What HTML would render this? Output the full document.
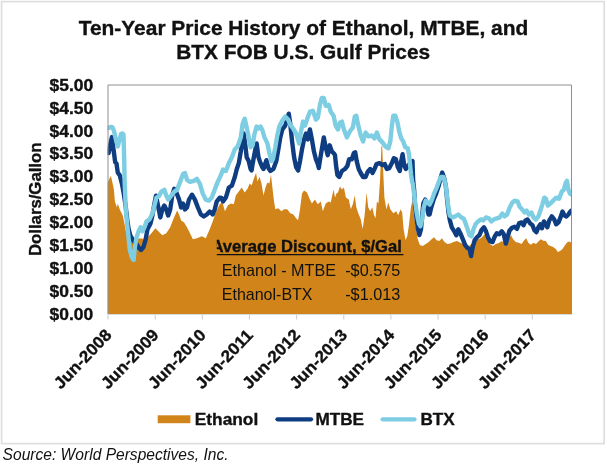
<!DOCTYPE html>
<html><head><meta charset="utf-8"><title>Ten-Year Price History of Ethanol, MTBE, and BTX</title>
<style>
html,body{margin:0;padding:0;background:#fff;}
body{width:607px;height:465px;overflow:hidden;font-family:"Liberation Sans",sans-serif;}
svg{display:block;}
text{font-family:"Liberation Sans",sans-serif;fill:#111;}
.b{font-weight:bold;stroke:#111;stroke-width:0.35px;}
</style></head><body>
<svg width="607" height="465" viewBox="0 0 607 465">
<rect x="0" y="0" width="607" height="465" fill="#fff"/>
<rect x="1.6" y="1.6" width="602.6" height="442" fill="#fff" stroke="#dedede" stroke-width="1.7"/>

<text class="b" x="303.5" y="34.5" font-size="19.9" text-anchor="middle" textLength="449.6" lengthAdjust="spacingAndGlyphs">Ten-Year Price History of Ethanol, MTBE, and</text>
<text class="b" x="303.2" y="58.9" font-size="19.9" text-anchor="middle" textLength="254" lengthAdjust="spacingAndGlyphs">BTX FOB U.S. Gulf Prices</text>
<text class="b" x="93.2" y="90.7" font-size="16" text-anchor="end" textLength="43.6" lengthAdjust="spacingAndGlyphs">$5.00</text>
<text class="b" x="93.2" y="113.6" font-size="16" text-anchor="end" textLength="43.6" lengthAdjust="spacingAndGlyphs">$4.50</text>
<text class="b" x="93.2" y="136.5" font-size="16" text-anchor="end" textLength="43.6" lengthAdjust="spacingAndGlyphs">$4.00</text>
<text class="b" x="93.2" y="159.4" font-size="16" text-anchor="end" textLength="43.6" lengthAdjust="spacingAndGlyphs">$3.50</text>
<text class="b" x="93.2" y="182.3" font-size="16" text-anchor="end" textLength="43.6" lengthAdjust="spacingAndGlyphs">$3.00</text>
<text class="b" x="93.2" y="205.2" font-size="16" text-anchor="end" textLength="43.6" lengthAdjust="spacingAndGlyphs">$2.50</text>
<text class="b" x="93.2" y="228.1" font-size="16" text-anchor="end" textLength="43.6" lengthAdjust="spacingAndGlyphs">$2.00</text>
<text class="b" x="93.2" y="251.0" font-size="16" text-anchor="end" textLength="43.6" lengthAdjust="spacingAndGlyphs">$1.50</text>
<text class="b" x="93.2" y="273.9" font-size="16" text-anchor="end" textLength="43.6" lengthAdjust="spacingAndGlyphs">$1.00</text>
<text class="b" x="93.2" y="296.8" font-size="16" text-anchor="end" textLength="43.6" lengthAdjust="spacingAndGlyphs">$0.50</text>
<text class="b" x="93.2" y="319.7" font-size="16" text-anchor="end" textLength="43.6" lengthAdjust="spacingAndGlyphs">$0.00</text>
<text class="b" transform="translate(41,199.3) rotate(-90)" x="0" y="0" font-size="16" text-anchor="middle" textLength="113.5" lengthAdjust="spacingAndGlyphs">Dollars/Gallon</text>
<clipPath id="pc"><rect x="107.5" y="85" width="464.0" height="229"/></clipPath>
<g clip-path="url(#pc)">
<path d="M107.5,314 L107.5,182 L108.0,182.0 L109.5,178.5 L110.9,175.9 L112.3,182.0 L113.9,189.8 L114.9,201.6 L116.9,207.5 L117.8,203.6 L119.8,209.5 L122.8,215.5 L124.8,225.3 L126.7,235.2 L129.7,241.0 L133.0,243.0 L136.6,239.2 L139.6,238.2 L144.5,239.0 L147.5,237.2 L151.4,233.2 L155.4,228.3 L159.3,232.3 L162.3,235.2 L166.3,233.2 L170.2,227.3 L173.2,219.4 L177.1,210.5 L179.1,214.5 L181.1,220.4 L184.1,222.4 L187.0,227.3 L190.0,233.2 L192.9,239.2 L196.9,238.2 L201.8,236.2 L205.8,238.2 L209.7,229.3 L212.7,221.4 L215.7,212.5 L219.6,204.6 L221.6,202.6 L223.0,204.3 L224.9,211.3 L227.9,205.3 L230.9,203.4 L233.8,204.3 L235.8,195.5 L238.8,191.5 L241.7,187.5 L244.7,192.5 L247.7,188.5 L249.6,183.6 L251.6,185.6 L253.6,179.6 L256.0,172.7 L257.5,181.6 L259.5,176.7 L261.5,183.6 L263.5,195.5 L265.5,187.5 L267.4,182.6 L269.4,183.6 L271.0,174.7 L272.4,187.5 L273.8,199.4 L275.3,209.3 L278.3,208.3 L281.3,211.3 L284.2,209.3 L287.2,209.3 L290.2,213.2 L293.1,214.2 L296.1,218.2 L298.1,220.2 L300.0,209.3 L302.0,193.5 L304.0,190.5 L307.0,192.5 L309.9,199.4 L311.9,203.4 L314.9,199.4 L317.8,204.3 L320.8,201.4 L322.8,211.3 L325.7,203.4 L328.7,201.4 L330.7,202.4 L333.6,189.5 L335.0,197.4 L336.5,193.5 L338.0,192.5 L339.9,186.6 L341.9,189.5 L343.9,187.5 L345.9,197.4 L348.8,199.4 L350.8,209.3 L352.8,204.3 L354.8,195.5 L356.3,207.3 L358.3,213.2 L360.7,219.2 L362.7,229.1 L364.6,215.2 L366.6,192.5 L368.2,207.3 L370.2,211.3 L372.2,207.3 L374.1,215.2 L375.5,218.2 L376.9,201.4 L378.5,203.4 L380.1,179.6 L381.0,156.0 L381.4,146.3 L382.2,146.3 L382.6,156.0 L383.4,175.7 L384.4,197.4 L386.4,209.3 L388.4,202.4 L390.3,209.3 L393.3,213.2 L396.3,211.3 L398.2,215.2 L400.6,209.3 L402.2,212.5 L403.6,229.3 L405.5,240.0 L407.3,236.0 L408.9,225.3 L410.9,207.5 L412.3,201.0 L414.2,217.4 L415.8,227.3 L417.8,239.2 L419.8,245.1 L422.7,246.1 L425.7,244.1 L428.7,242.1 L431.6,239.2 L434.0,237.2 L436.6,240.2 L439.5,241.1 L441.9,238.2 L444.5,242.1 L447.4,244.1 L450.4,243.5 L453.4,242.1 L457.0,241.0 L461.0,243.0 L465.0,245.0 L469.0,246.0 L473.0,243.0 L476.1,239.2 L479.1,239.2 L482.0,237.2 L484.6,234.2 L487.0,238.2 L489.9,244.1 L492.9,246.1 L495.8,244.1 L498.8,243.1 L501.8,241.0 L504.7,243.6 L507.0,244.1 L509.1,238.2 L511.1,235.2 L513.1,239.2 L515.7,242.1 L518.6,242.7 L521.6,244.1 L524.2,240.2 L526.1,238.2 L528.5,243.1 L530.9,244.7 L533.4,242.7 L536.0,244.1 L538.4,241.5 L540.8,239.2 L543.3,240.8 L545.9,241.1 L548.3,245.1 L550.6,246.1 L553.2,247.1 L555.8,249.1 L557.8,252.0 L560.1,251.0 L562.5,249.1 L565.1,245.1 L567.6,242.1 L569.6,241.5 L571.6,243.1 L571.5,314 Z" fill="#D0841A"/>
<path d="M108.6,153.0 L110.2,145.0 L111.9,137.1 L113.8,151.6 L115.2,162.2 L116.5,163.5 L117.8,172.7 L119.8,175.3 L121.1,180.6 L122.0,184.0 L123.5,192.0 L125.5,205.0 L127.7,223.4 L128.7,229.3 L130.5,236.0 L133.5,241.0 L136.6,244.0 L138.6,247.5 L141.0,250.0 L143.5,247.0 L145.5,240.0 L147.5,229.3 L150.5,223.4 L152.4,215.5 L154.4,203.6 L156.0,195.7 L158.0,205.6 L160.3,217.4 L162.3,209.5 L164.3,205.6 L166.3,209.5 L168.2,215.5 L170.2,209.5 L172.2,195.7 L174.2,188.8 L176.1,191.7 L179.1,199.6 L181.1,207.5 L183.1,203.6 L185.0,209.5 L187.0,207.5 L189.0,199.6 L192.0,194.7 L194.9,199.6 L197.9,207.5 L200.9,214.5 L203.8,216.4 L206.8,214.5 L209.7,211.5 L212.7,214.5 L214.7,209.5 L216.7,201.6 L219.6,197.7 L221.5,198.0 L223.0,201.4 L225.9,197.4 L228.9,187.5 L231.9,185.6 L234.8,177.0 L236.8,169.0 L238.8,163.1 L240.8,151.3 L242.7,137.4 L243.7,133.5 L245.3,145.3 L246.7,157.2 L248.7,161.1 L250.6,169.0 L251.6,170.5 L252.6,164.0 L254.6,153.2 L256.6,143.4 L258.5,157.2 L260.5,163.1 L262.5,167.5 L263.5,169.0 L264.5,166.0 L266.4,160.2 L268.4,168.0 L270.4,171.0 L273.4,169.0 L276.3,161.1 L278.3,149.3 L280.3,137.4 L282.3,129.5 L285.2,125.6 L287.2,119.6 L288.8,113.7 L290.2,123.6 L292.1,141.4 L294.1,157.2 L296.1,167.1 L298.1,170.5 L300.0,161.1 L302.0,149.3 L304.0,139.4 L306.0,133.5 L307.9,139.4 L309.9,129.5 L311.9,139.4 L313.9,151.3 L315.9,159.2 L317.8,164.0 L318.8,168.0 L319.8,161.1 L321.8,149.3 L323.8,137.4 L325.7,147.3 L327.7,155.2 L329.7,145.3 L331.7,151.3 L334.0,153.5 L335.0,155.2 L336.0,165.1 L337.4,175.0 L339.3,177.0 L341.9,171.0 L344.9,169.0 L347.3,166.1 L349.2,159.2 L351.8,159.2 L353.8,153.2 L355.2,152.3 L356.7,161.1 L358.7,169.0 L360.7,173.0 L363.1,177.0 L365.6,177.0 L367.6,172.0 L370.2,169.0 L372.5,173.0 L374.5,169.0 L376.5,164.1 L379.5,163.1 L382.4,165.1 L384.8,164.1 L386.8,169.0 L389.3,168.1 L391.9,163.1 L393.9,158.2 L395.9,159.2 L397.8,167.1 L399.8,171.0 L401.2,161.1 L402.6,154.2 L404.2,165.1 L405.8,169.0 L407.1,167.1 L409.0,164.5 L411.0,162.0 L412.5,161.1 L413.1,179.6 L414.1,189.5 L415.0,205.3 L416.4,217.2 L418.0,229.1 L419.4,235.0 L421.0,229.1 L422.3,215.0 L423.3,203.6 L425.3,199.6 L426.9,207.3 L428.5,214.5 L429.6,214.5 L431.2,207.5 L433.5,200.0 L435.8,194.5 L438.8,185.6 L440.7,177.7 L442.2,172.5 L444.1,177.7 L445.8,186.0 L447.2,200.0 L448.6,213.0 L449.8,220.0 L451.8,227.3 L454.3,231.3 L456.3,235.2 L458.3,229.3 L460.3,233.2 L462.8,239.2 L465.2,245.1 L467.6,248.1 L469.6,249.1 L471.1,256.0 L472.7,247.1 L474.7,240.2 L477.1,237.2 L479.4,235.2 L481.4,230.3 L484.0,227.3 L486.0,231.3 L487.9,237.2 L489.9,241.1 L492.5,242.1 L494.9,236.2 L496.8,233.2 L499.2,234.2 L501.8,231.3 L503.8,234.2 L505.8,243.6 L507.5,237.7 L509.4,230.8 L512.0,227.8 L514.7,226.8 L517.0,228.8 L519.0,223.4 L521.6,222.4 L523.6,225.3 L525.5,220.4 L527.5,219.4 L530.1,223.4 L532.5,225.3 L534.4,230.3 L536.4,232.3 L538.4,227.3 L540.4,224.3 L541.9,228.3 L543.9,221.4 L545.9,224.3 L547.3,227.3 L549.3,220.4 L551.8,216.4 L554.2,219.4 L556.2,224.3 L558.5,222.4 L560.5,217.4 L562.5,211.5 L564.5,215.5 L566.4,216.4 L568.4,214.5 L570.4,211.5 L571.6,210.5" fill="none" stroke="#0F3D82" stroke-width="4.4" stroke-linejoin="round" stroke-linecap="round"/>
<path d="M108.6,127.9 L110.5,127.0 L112.5,127.2 L114.0,131.0 L116.0,140.0 L117.8,146.4 L119.5,140.0 L121.1,133.8 L122.5,133.5 L123.5,134.5 L124.2,159.5 L124.6,180.6 L125.0,189.8 L125.8,209.5 L127.7,229.3 L129.7,249.0 L131.7,257.0 L133.7,260.0 L134.6,249.0 L136.6,237.2 L138.6,231.3 L140.6,227.3 L142.5,231.3 L144.5,227.3 L146.5,221.4 L149.5,219.4 L152.4,213.5 L154.4,205.6 L156.4,197.7 L159.3,195.7 L161.3,191.7 L164.3,189.8 L166.3,195.7 L168.2,199.6 L171.2,195.7 L174.2,191.7 L177.1,189.8 L180.1,181.9 L183.1,174.0 L185.0,173.0 L187.0,179.9 L190.0,181.9 L193.9,180.9 L196.9,178.9 L199.9,183.8 L202.8,193.7 L205.8,199.6 L208.8,200.6 L211.7,197.7 L214.7,189.8 L217.7,181.9 L220.6,175.9 L223.0,169.5 L225.9,171.0 L228.9,163.1 L231.9,157.2 L234.8,149.3 L237.8,146.3 L240.8,137.4 L242.7,123.6 L244.7,118.7 L246.7,127.5 L248.7,137.4 L250.6,147.3 L252.6,145.3 L254.6,133.5 L256.6,126.6 L258.5,128.5 L260.5,126.6 L262.5,130.5 L264.5,137.4 L267.4,143.4 L269.4,153.2 L271.4,161.1 L273.0,159.2 L275.3,147.3 L277.3,135.5 L279.3,126.6 L282.3,120.6 L285.2,116.7 L288.2,119.6 L290.2,124.6 L293.1,128.5 L296.1,133.5 L299.1,143.4 L301.0,131.5 L303.0,121.6 L305.0,125.6 L307.0,119.6 L309.9,111.7 L312.9,110.8 L315.9,119.6 L317.8,117.7 L319.8,105.8 L321.8,97.9 L323.8,97.9 L325.7,105.8 L328.7,104.8 L330.7,111.7 L333.6,115.7 L335.6,125.6 L338.0,129.5 L339.9,122.6 L341.9,121.6 L343.9,129.5 L346.9,137.4 L349.8,131.5 L352.8,127.5 L354.8,116.7 L356.3,115.7 L358.3,125.6 L360.7,135.5 L363.1,141.4 L365.6,132.5 L368.6,136.4 L371.6,135.5 L374.5,138.4 L376.9,132.5 L379.5,139.4 L382.4,142.4 L385.4,146.3 L388.4,148.3 L390.3,141.4 L391.9,125.6 L393.3,115.7 L395.3,115.7 L397.3,121.6 L399.2,131.5 L401.2,138.4 L403.2,141.4 L405.2,147.3 L407.7,148.3 L409.1,155.2 L410.1,165.1 L411.1,175.0 L412.1,182.0 L412.8,183.8 L414.8,199.6 L416.8,213.5 L418.8,223.4 L420.4,226.3 L422.1,219.4 L423.7,207.5 L425.7,200.6 L427.7,202.6 L429.6,204.6 L431.6,200.6 L434.0,193.7 L436.6,187.8 L439.1,180.9 L441.1,176.9 L443.5,176.9 L445.5,183.8 L447.0,195.7 L448.4,207.5 L449.8,215.5 L452.4,217.4 L455.3,216.4 L458.3,214.5 L461.3,217.4 L463.6,218.4 L465.6,223.4 L467.6,229.3 L469.6,235.2 L471.5,236.2 L473.5,229.3 L475.5,224.3 L478.1,221.4 L481.0,219.4 L483.4,220.4 L486.0,217.4 L488.9,218.4 L491.3,221.4 L493.9,219.4 L496.8,218.4 L499.8,217.4 L502.4,213.5 L504.7,216.4 L507.1,214.5 L509.7,207.5 L512.3,202.6 L514.6,200.6 L517.6,201.3 L519.6,206.6 L522.2,209.5 L524.5,212.5 L526.5,210.5 L528.9,214.5 L531.5,212.5 L533.4,217.4 L536.0,219.4 L538.4,216.4 L540.4,210.5 L542.3,204.6 L544.3,197.7 L545.9,198.7 L547.9,205.6 L550.2,203.6 L553.2,200.6 L556.2,197.7 L559.1,198.7 L561.7,191.7 L563.7,189.8 L565.7,182.8 L567.0,180.9 L568.4,189.8 L570.0,193.7 L571.6,194.7" fill="none" stroke="#7DCDE3" stroke-width="4.4" stroke-linejoin="round" stroke-linecap="round"/>
</g>
<path d="M108,314 L108,85 L571.5,85 L571.5,314" fill="none" stroke="#8f8f8f" stroke-width="1"/>
<path d="M107.5,314.5 L572.0,314.5" stroke="#d4dbe0" stroke-width="1"/>
<path d="M108.0,315 L108.0,319.5" stroke="#c9c9c9" stroke-width="1"/>
<text class="b" transform="translate(82.4,358.9) rotate(-46.3)" x="0" y="5.9" font-size="16.5" text-anchor="middle" textLength="75" lengthAdjust="spacingAndGlyphs">Jun-2008</text>
<path d="M155.2,315 L155.2,319.5" stroke="#c9c9c9" stroke-width="1"/>
<text class="b" transform="translate(129.6,358.9) rotate(-46.3)" x="0" y="5.9" font-size="16.5" text-anchor="middle" textLength="75" lengthAdjust="spacingAndGlyphs">Jun-2009</text>
<path d="M202.3,315 L202.3,319.5" stroke="#c9c9c9" stroke-width="1"/>
<text class="b" transform="translate(176.7,358.9) rotate(-46.3)" x="0" y="5.9" font-size="16.5" text-anchor="middle" textLength="75" lengthAdjust="spacingAndGlyphs">Jun-2010</text>
<path d="M249.4,315 L249.4,319.5" stroke="#c9c9c9" stroke-width="1"/>
<text class="b" transform="translate(223.8,358.9) rotate(-46.3)" x="0" y="5.9" font-size="16.5" text-anchor="middle" textLength="75" lengthAdjust="spacingAndGlyphs">Jun-2011</text>
<path d="M296.6,315 L296.6,319.5" stroke="#c9c9c9" stroke-width="1"/>
<text class="b" transform="translate(271.0,358.9) rotate(-46.3)" x="0" y="5.9" font-size="16.5" text-anchor="middle" textLength="75" lengthAdjust="spacingAndGlyphs">Jun-2012</text>
<path d="M343.8,315 L343.8,319.5" stroke="#c9c9c9" stroke-width="1"/>
<text class="b" transform="translate(318.1,358.9) rotate(-46.3)" x="0" y="5.9" font-size="16.5" text-anchor="middle" textLength="75" lengthAdjust="spacingAndGlyphs">Jun-2013</text>
<path d="M390.9,315 L390.9,319.5" stroke="#c9c9c9" stroke-width="1"/>
<text class="b" transform="translate(365.3,358.9) rotate(-46.3)" x="0" y="5.9" font-size="16.5" text-anchor="middle" textLength="75" lengthAdjust="spacingAndGlyphs">Jun-2014</text>
<path d="M438.1,315 L438.1,319.5" stroke="#c9c9c9" stroke-width="1"/>
<text class="b" transform="translate(412.4,358.9) rotate(-46.3)" x="0" y="5.9" font-size="16.5" text-anchor="middle" textLength="75" lengthAdjust="spacingAndGlyphs">Jun-2015</text>
<path d="M485.2,315 L485.2,319.5" stroke="#c9c9c9" stroke-width="1"/>
<text class="b" transform="translate(459.6,358.9) rotate(-46.3)" x="0" y="5.9" font-size="16.5" text-anchor="middle" textLength="75" lengthAdjust="spacingAndGlyphs">Jun-2016</text>
<path d="M532.3,315 L532.3,319.5" stroke="#c9c9c9" stroke-width="1"/>
<text class="b" transform="translate(506.7,358.9) rotate(-46.3)" x="0" y="5.9" font-size="16.5" text-anchor="middle" textLength="75" lengthAdjust="spacingAndGlyphs">Jun-2017</text>
<clipPath id="ac"><rect x="216.8" y="230" width="200" height="30"/></clipPath>
<g clip-path="url(#ac)"><text class="b" x="211.5" y="251.8" font-size="16.8" textLength="190.3" lengthAdjust="spacingAndGlyphs">Average Discount, $/Gal</text></g>
<path d="M216.8,254.6 L403.5,254.6" stroke="#111" stroke-width="1.3"/>
<text x="221.8" y="275.7" font-size="16.6" textLength="114.2" lengthAdjust="spacingAndGlyphs">Ethanol - MTBE</text>
<text x="345.2" y="275.7" font-size="16.6" textLength="55.1" lengthAdjust="spacingAndGlyphs">-$0.575</text>
<text x="221.8" y="300" font-size="16.6" textLength="90.7" lengthAdjust="spacingAndGlyphs">Ethanol-BTX</text>
<text x="345.2" y="300" font-size="16.6" textLength="55.1" lengthAdjust="spacingAndGlyphs">-$1.013</text>
<rect x="157.7" y="415.3" width="32.7" height="7.9" fill="#D0841A"/>
<text class="b" x="194.8" y="424.6" font-size="16.5" textLength="63.4" lengthAdjust="spacingAndGlyphs">Ethanol</text>
<path d="M277.5,419.3 L311,419.3" stroke="#0F3D82" stroke-width="4.3" stroke-linecap="round"/>
<text class="b" x="315.4" y="424.6" font-size="16.5" textLength="48.6" lengthAdjust="spacingAndGlyphs">MTBE</text>
<path d="M382.6,419.3 L414.5,419.3" stroke="#7DCDE3" stroke-width="4.3" stroke-linecap="round"/>
<text class="b" x="420.4" y="424.6" font-size="16.5" textLength="34.2" lengthAdjust="spacingAndGlyphs">BTX</text>
<text x="2.6" y="460.2" font-size="15.6" font-style="italic" textLength="226" lengthAdjust="spacingAndGlyphs">Source: World Perspectives, Inc.</text>
</svg></body></html>
